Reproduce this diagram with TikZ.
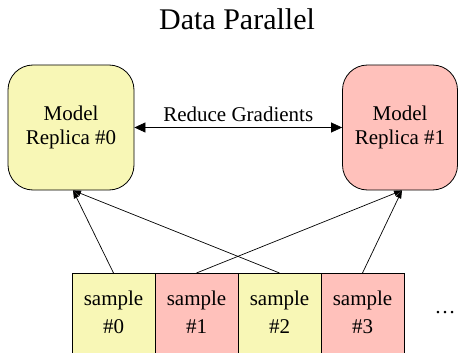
\documentclass[tikz,border=0pt]{standalone}
\usepackage{fontspec}
\setmainfont{Liberation Serif}
\usetikzlibrary{arrows.meta}

\definecolor{jaune}{RGB}{248,247,182}
\definecolor{rose}{RGB}{255,193,187}

\tikzset{replica/.style = {draw, rounded corners = 25pt, minimum height = 125pt,
                           align = center, font = \fontsize{21}{24}\selectfont,
                           inner sep = 0pt, line width = 0.8pt},
         cellule/.style = {draw, anchor = north, minimum width = 83pt, inner sep = 0pt,
                           align = center, text height = 60pt, text depth = 30pt,
                           font = \fontsize{21}{28}\selectfont, line width = 0.8pt},
         fleche/.style = {line width = 0.7pt, -{Triangle[length=8pt,width=5.5pt]}}
        }

\begin{document}
\begin{tikzpicture}[x=1pt, y=-1pt]
  \useasboundingbox (0, 0) rectangle (458, 353);
  \node[font = \fontsize{30}{34}\selectfont] (titre) at (237, 19.5) {Data Parallel};
  \node[replica, fill = jaune, minimum width = 126pt] (m0) at (71, 127.5) {Model\\Replica \#0};
  \node[replica, fill = rose, minimum width = 115pt] (m1) at (400, 127.5) {Model\\Replica \#1};
  \draw[line width = 0.7pt, {Triangle[length=11pt,width=10pt]}-{Triangle[length=11pt,width=10pt]}]
    (m0.east) -- node[above, inner sep = 5pt, font = \fontsize{21}{24}\selectfont] (reduce) {Reduce Gradients} (m1.west);
  % les echantillons
  \node[cellule, fill = jaune] (s0) at (113.5, 273) {sample\\\#0};
  \node[cellule, fill = rose]  (s1) at (196.5, 273) {sample\\\#1};
  \node[cellule, fill = jaune] (s2) at (279.5, 273) {sample\\\#2};
  \node[cellule, fill = rose]  (s3) at (362.5, 273) {sample\\\#3};
  \node[font = \fontsize{21}{24}\selectfont] (suite) at (445, 313) {\dots};
  \draw[fleche] (s0.north) -- ([xshift=2pt]m0.south);
  \draw[fleche] (s2.north) -- ([xshift=2pt]m0.south);
  \draw[fleche] (s1.north) -- ([xshift=2pt]m1.south);
  \draw[fleche] (s3.north) -- ([xshift=2pt]m1.south);
\end{tikzpicture}
\end{document}
